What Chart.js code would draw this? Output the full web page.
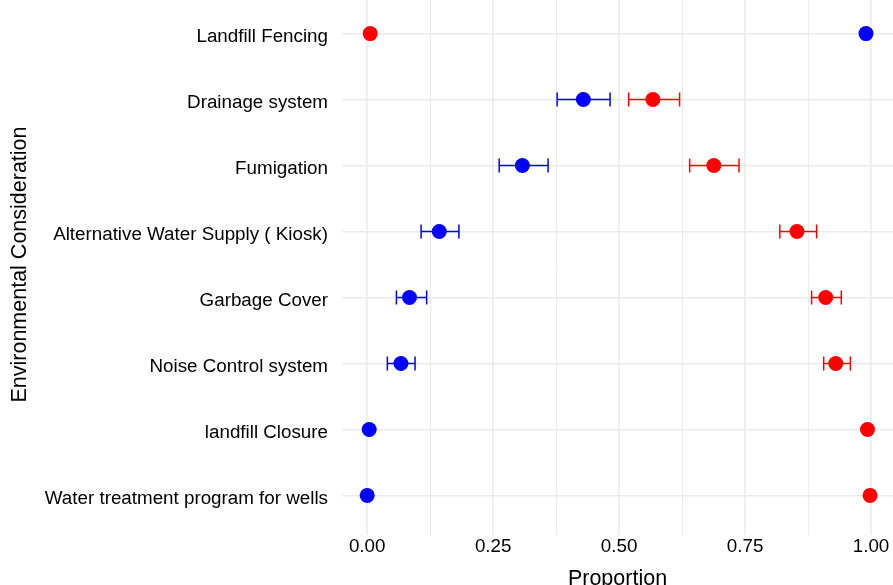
<!DOCTYPE html>
<html>
<head>
<meta charset="utf-8">
<script src="https://cdn.jsdelivr.net/npm/chart.js@4.4.1/dist/chart.umd.min.js"></script>
<style>
  html, body { margin: 0; padding: 0; background: #fff; overflow: hidden; }
  #wrap { position: absolute; left: 0; top: -6px; width: 893px; height: 600px; }
</style>
</head>
<body>
<div id="wrap"><canvas id="chart"></canvas></div>
<script>
const categories = [
  "Landfill Fencing",
  "Drainage system",
  "Fumigation",
  "Alternative Water Supply ( Kiosk)",
  "Garbage Cover",
  "Noise Control system",
  "landfill Closure",
  "Water treatment program for wells"
]

// blue series with confidence limits (null = no bar drawn)
const blueValues = [0.990, 0.429, 0.308, 0.143, 0.084, 0.067, 0.004, 0.000]
const blueLower = [null, 0.377, 0.262, 0.107, 0.058, 0.040, null, null]
const blueUpper = [null, 0.482, 0.359, 0.182, 0.118, 0.095, null, null]

// red series
const redValues = [0.006, 0.567, 0.688, 0.853, 0.910, 0.930, 0.993, 0.998]
const redLower = [null, 0.519, 0.640, 0.819, 0.882, 0.906, null, null]
const redUpper = [null, 0.620, 0.738, 0.892, 0.941, 0.959, null, null]

const xTicks = [0, 0.125, 0.25, 0.375, 0.5, 0.625, 0.75, 0.875, 1]
const xMajor = [0, 0.25, 0.5, 0.75, 1]

const BLUE = "#0000FF"
const RED = "#FF0000"
const GRID = "#ebebeb"
const FONT = "'Liberation Sans', Arial, sans-serif"

const toPoints = (vals) => vals.map((v, i) => ({ x: v, y: i }))

// horizontal error bars with end caps, drawn under the points
const errorBars = {
  id: "errorBars",
  beforeDatasetsDraw(chart) {
    const ctx = chart.ctx
    const xs = chart.scales.x
    const ys = chart.scales.y
    const sets = [
      { lo: blueLower, hi: blueUpper, color: BLUE },
      { lo: redLower, hi: redUpper, color: RED },
    ]
    ctx.save()
    ctx.lineWidth = 1.5
    sets.forEach((s) => {
      ctx.strokeStyle = s.color
      s.lo.forEach((lo, i) => {
        const hi = s.hi[i]
        if (lo === null || hi === null) return
        const x1 = xs.getPixelForValue(lo)
        const x2 = xs.getPixelForValue(hi)
        const y = ys.getPixelForValue(i)
        ctx.beginPath()
        ctx.moveTo(x1, y)
        ctx.lineTo(x2, y)
        ctx.moveTo(x1, y - 7)
        ctx.lineTo(x1, y + 7)
        ctx.moveTo(x2, y - 7)
        ctx.lineTo(x2, y + 7)
        ctx.stroke()
      })
    })
    ctx.restore()
  }
}

new Chart(document.getElementById("chart"), {
  type: "scatter",
  data: {
    datasets: [
      {
        label: "Yes",
        data: toPoints(blueValues),
        backgroundColor: BLUE,
        borderWidth: 0,
        pointRadius: 7.5,
        pointHoverRadius: 7.5,
      },
      {
        label: "No",
        data: toPoints(redValues),
        backgroundColor: RED,
        borderWidth: 0,
        pointRadius: 7.5,
        pointHoverRadius: 7.5,
      },
    ],
  },
  options: {
    responsive: true,
    maintainAspectRatio: false,
    animation: false,
    layout: { padding: 0, autoPadding: false },
    plugins: {
      legend: { display: false },
      tooltip: { enabled: false },
    },
    scales: {
      x: {
        type: "linear",
        min: -0.05,
        max: 1.0436,
        afterBuildTicks: (s) => { s.ticks = xTicks.map((v) => ({ value: v })) },
        afterFit: (s) => {
          s.height = 59
          s.paddingLeft = 0
          s.paddingRight = 0
        },
        border: { display: false },
        grid: {
          drawTicks: false,
          color: GRID,
          lineWidth: (c) => (xMajor.includes(c.tick && c.tick.value) ? 1.6 : 1),
        },
        ticks: {
          padding: 1,
          color: "#000",
          font: { family: FONT, size: 18.8 },
          maxRotation: 0,
          autoSkip: false,
          callback: (v) => (xMajor.includes(v) ? v.toFixed(2) : ""),
        },
        title: {
          display: true,
          text: "Proportion",
          color: "#000",
          font: { family: FONT, size: 21.5 },
          padding: { top: 2, bottom: 2 },
        },
      },
      y: {
        type: "linear",
        reverse: true,
        min: -0.6,
        max: 7.6,
        afterBuildTicks: (s) => { s.ticks = categories.map((c, i) => ({ value: i })) },
        afterFit: (s) => {
          s.width = 342
          s.paddingTop = 0
          s.paddingBottom = 0
        },
        border: { display: false },
        grid: { drawTicks: false, color: GRID, lineWidth: 1.6 },
        ticks: {
          padding: 14,
          labelOffset: 3.5,
          color: "#000",
          font: { family: FONT, size: 18.8 },
          autoSkip: false,
          callback: (v) => categories[v],
        },
        title: {
          display: true,
          text: "Environmental Consideration",
          color: "#000",
          font: { family: FONT, size: 21.5 },
          padding: { top: 7, bottom: 7 },
        },
      },
    },
  },
  plugins: [errorBars],
})
</script>
</body>
</html>
